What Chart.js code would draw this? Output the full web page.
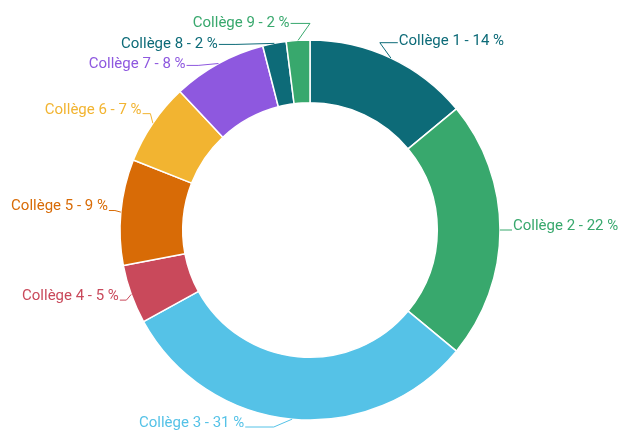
<!DOCTYPE html>
<html>
<head>
<meta charset="utf-8">
<script src="https://cdn.jsdelivr.net/npm/chart.js@4"></script>
<style>
  html, body { margin: 0; padding: 0; background: #fff; }
  #wrap { width: 621px; height: 435px; }
</style>
</head>
<body>
<div id="wrap"><canvas id="chart"></canvas></div>
<script>
// Données
const colleges = ['Collège 1', 'Collège 2', 'Collège 3', 'Collège 4', 'Collège 5',
                  'Collège 6', 'Collège 7', 'Collège 8', 'Collège 9'];
const percents = [14, 22, 31, 5, 9, 7, 8, 2, 2];
const colors = ['#0d6b78', '#38a86d', '#55c2e7', '#c9495b', '#d86b06',
                '#f2b431', '#8e58df', '#0d6b78', '#38a86d'];

// Étiquettes extérieures avec traits de rappel
const outsideLabels = {
  id: 'outsideLabels',
  afterDatasetsDraw(chart) {
    const ctx = chart.ctx;
    const arcs = chart.getDatasetMeta(0).data;
    const gap = 21;
    const items = arcs.map((arc, i) => {
      const mid = (arc.startAngle + arc.endAngle) / 2;
      const r = arc.outerRadius;
      return {
        i, mid, cx: arc.x, cy: arc.y, r,
        right: Math.cos(mid) >= 0,
        y: arc.y + Math.sin(mid) * (r + 17)
      };
    });
    // éviter les chevauchements, de haut en bas
    [true, false].forEach(side => {
      const list = items.filter(it => it.right === side).sort((a, b) => a.y - b.y);
      for (let k = 1; k < list.length; k++) {
        if (list[k].y < list[k - 1].y + gap) list[k].y = list[k - 1].y + gap;
      }
      list.forEach(it => { it.y = Math.min(it.y, chart.height - 8); });
    });
    ctx.save();
    ctx.font = '15px Roboto';
    ctx.textBaseline = 'middle';
    ctx.lineWidth = 1;
    items.forEach(it => {
      const dir = it.right ? 1 : -1;
      const x0 = it.cx + Math.cos(it.mid) * it.r;
      const y0 = it.cy + Math.sin(it.mid) * it.r;
      const dyl = it.y - it.cy;
      const k = Math.min(Math.pow(dyl / it.r, 2), 1.1);
      const r1 = it.r + 6 + 4 * k, r2 = it.r + 12 + 5 * k;
      const x1 = it.cx + dir * Math.sqrt(Math.max(r1 * r1 - dyl * dyl, 0));
      const x2 = it.cx + dir * Math.sqrt(Math.max(r2 * r2 - dyl * dyl, 0));
      ctx.strokeStyle = colors[it.i];
      ctx.beginPath();
      ctx.moveTo(x0, y0);
      ctx.lineTo(x1, it.y);
      ctx.lineTo(x2, it.y);
      ctx.stroke();
      ctx.fillStyle = colors[it.i];
      ctx.textAlign = it.right ? 'left' : 'right';
      const up = Math.pow(Math.max(0, -Math.sin(it.mid)), 4);
      ctx.fillText(colleges[it.i] + ' - ' + percents[it.i] + ' %', x2 + dir * 1, it.y - 4 + 4 * up);
    });
    ctx.restore();
  }
};

new Chart(document.getElementById('chart'), {
  type: 'doughnut',
  data: {
    labels: colleges,
    datasets: [{
      data: percents,
      backgroundColor: colors,
      borderColor: '#ffffff',
      borderWidth: 1.5
    }]
  },
  options: {
    responsive: true,
    maintainAspectRatio: false,
    animation: false,
    radius: 190,
    cutout: '67%',
    layout: { padding: { top: 40, bottom: 15, left: 0, right: 1 } },
    plugins: {
      legend: { display: false },
      tooltip: { enabled: false }
    }
  },
  plugins: [outsideLabels]
});
</script>
</body>
</html>
